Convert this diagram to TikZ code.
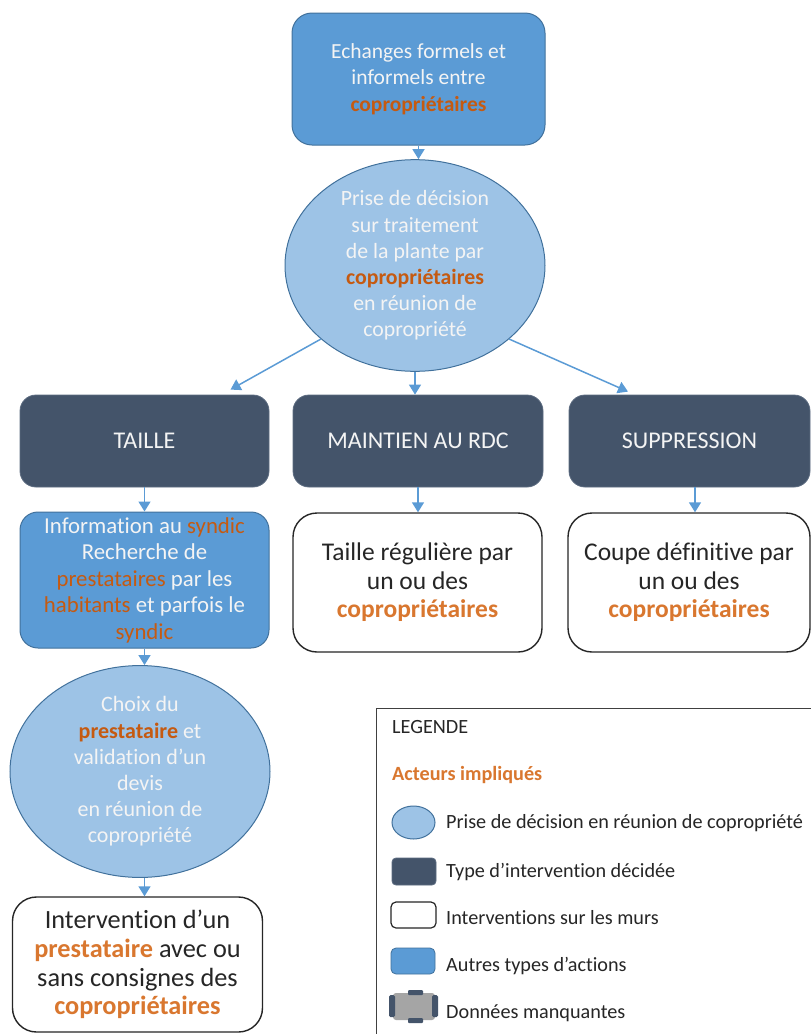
\documentclass[tikz,border=0pt]{standalone}
\usepackage{fontspec}
\setmainfont[Ligatures=NoCommon]{Carlito}
\usetikzlibrary{arrows.meta,shapes.geometric}
\definecolor{bluefill}{HTML}{5B9BD5}
\definecolor{blueline}{HTML}{41719C}
\definecolor{lightfill}{HTML}{9DC3E6}
\definecolor{darkfill}{HTML}{44546A}
\definecolor{darkline}{HTML}{5C6B80}
\definecolor{orangeD}{HTML}{C55A11}
\definecolor{orangeL}{HTML}{D9772F}
\definecolor{arrowblue}{HTML}{5B9BD5}
\definecolor{grayfill}{HTML}{A5A5A5}
\definecolor{textwhite}{HTML}{F4F4F4}
\newcommand{\od}[1]{\textcolor{orangeD}{#1}}
\newcommand{\ol}[1]{\textcolor{orangeL}{#1}}
\begin{document}
\begin{tikzpicture}[x=1pt,y=-1pt,
  bluebox/.style={draw=blueline, line width=1pt, fill=bluefill, rounded corners=20pt, text=textwhite, align=center, inner sep=0pt},
  ellbox/.style={ellipse, draw=blueline, line width=1pt, fill=lightfill, text=textwhite, align=center, inner sep=0pt, minimum width=260pt, minimum height=196pt},
  darkbox/.style={draw=darkline, line width=0.8pt, fill=darkfill, rounded corners=16pt, text=textwhite, inner sep=0pt, minimum height=92pt, font=\fontsize{24}{28}\selectfont},
  whitebox/.style={draw=black!85, line width=1.4pt, fill=white, rounded corners=24pt, text=black!85, align=center, inner sep=0pt},
  arr/.style={draw=arrowblue, line width=1.5pt, -{Triangle[length=10pt,width=12pt]}},
  legtext/.style={anchor=west, inner sep=0pt, text=black!85, font=\fontsize{20.2}{24}\selectfont},
]
\useasboundingbox (0,0) rectangle (811,1034);

% top box
\node[bluebox, minimum width=253pt, minimum height=132pt, font=\fontsize{21.5}{26.5}\selectfont] (top) at (418.5,79)
  {Echanges formels et\\informels entre\\\od{\textbf{copropriétaires}}};

% decision ellipse
\node[ellbox, font=\fontsize{21.8}{26.2}\selectfont] (e1) at (415,265.5)
  {Prise de décision\\sur traitement\\de la plante par\\\od{\textbf{copropriétaires}}\\en réunion de\\copropriété};

% dark boxes
\node[darkbox, minimum width=249pt] (taille) at (144.5,441) {TAILLE};
\node[darkbox, minimum width=250pt] (maint) at (418,441) {MAINTIEN AU RDC};
\node[darkbox, minimum width=241pt] (supp) at (689.5,441) {SUPPRESSION};

% second row
\node[bluebox, rounded corners=18pt, minimum width=249pt, minimum height=136pt, font=\fontsize{22.8}{26.5}\selectfont] (info) at (144.5,580)
  {Information au \od{syndic}\\Recherche de\\\od{prestataires} par les\\\od{habitants} et parfois le\\\od{syndic}};
\node[whitebox, minimum width=249pt, minimum height=139pt, font=\fontsize{25.5}{28.5}\selectfont] (regul) at (417.5,582.5)
  {Taille régulière par\\un ou des\\\ol{\textbf{copropriétaires}}};
\node[whitebox, minimum width=242pt, minimum height=139pt, font=\fontsize{25.5}{28.5}\selectfont] (coupe) at (689,582.5)
  {Coupe définitive par\\un ou des\\\ol{\textbf{copropriétaires}}};

% second ellipse
\node[ellbox, minimum height=197pt, font=\fontsize{22}{26.2}\selectfont] (e2) at (140,771.5)
  {Choix du\\\od{\textbf{prestataire}} et\\validation d’un\\devis\\en réunion de\\copropriété};

% bottom box
\node[whitebox, minimum width=250pt, minimum height=135pt, font=\fontsize{26.3}{28.8}\selectfont] (bot) at (137.5,964.5)
  {Intervention d’un\\\ol{\textbf{prestataire}} avec ou\\sans consignes des\\\ol{\textbf{copropriétaires}}};

% connectors
\draw[arr] (top.south) -- (top.south |- e1.north);
\draw[arr] (e1.218) -- ([shift={(86,-5)}]taille.north);
\draw[arr] (e1.south) -- (e1.south |- maint.north);
\draw[arr] (e1.322) -- ([shift={(-61.5,-3)}]supp.north);
\draw[arr] (taille.south) -- (info.north);
\draw[arr] (maint.south) -- (maint.south |- regul.north);
\draw[arr] ([xshift=5.5pt]supp.south) -- ([xshift=5.5pt]supp.south |- coupe.north);
\draw[arr] (info.south) -- (info.south |- e2.north);
\draw[arr] (e2.south -| info.south) -- (bot.north -| info.south);

% legend
\node[draw=black!75, line width=1.2pt, fill=white, anchor=north west, minimum width=460pt, minimum height=350pt, inner sep=0pt] (legend) at (376,708) {};
\node[legtext] (lgtitle) at (392,727) {LEGENDE};
\node[legtext, text=orangeL] (lgact) at (392,775) {\textbf{Acteurs impliqués}};
\node[ellipse, draw=blueline, line width=1pt, fill=lightfill, minimum width=43pt, minimum height=33pt, inner sep=0pt] (lgE) at (413.5,822.5) {};
\node[legtext] (lgEt) at (446,823) {Prise de décision en réunion de copropriété};
\node[draw=darkline, line width=0.8pt, fill=darkfill, rounded corners=4pt, minimum width=44pt, minimum height=27pt, inner sep=0pt] (lgD) at (414,871.5) {};
\node[legtext] (lgDt) at (446,872) {Type d’intervention décidée};
\node[draw=black!85, line width=1.2pt, fill=white, rounded corners=5pt, minimum width=45pt, minimum height=26pt, inner sep=0pt] (lgW) at (413.5,915) {};
\node[legtext] (lgWt) at (446,918) {Interventions sur les murs};
\node[draw=blueline, line width=0.8pt, fill=bluefill, rounded corners=5pt, minimum width=44pt, minimum height=26pt, inner sep=0pt] (lgB) at (413,961) {};
\node[legtext] (lgBt) at (446,966) {Autres types d’actions};
\node[fill=grayfill, rounded corners=3pt, minimum width=42pt, minimum height=27pt, inner sep=0pt] (lgM) at (414,1006.5) {};
\fill[darkfill, rounded corners=1.5pt] (389,995) rectangle (395,1017);
\fill[darkfill, rounded corners=1.5pt] (432,995) rectangle (438,1017);
\fill[darkfill, rounded corners=1pt] (408,990) rectangle (423,995);
\fill[darkfill, rounded corners=1pt] (408,1018) rectangle (423,1023);
\node[legtext] (lgMt) at (446,1013) {Données manquantes};
\end{tikzpicture}
\end{document}
